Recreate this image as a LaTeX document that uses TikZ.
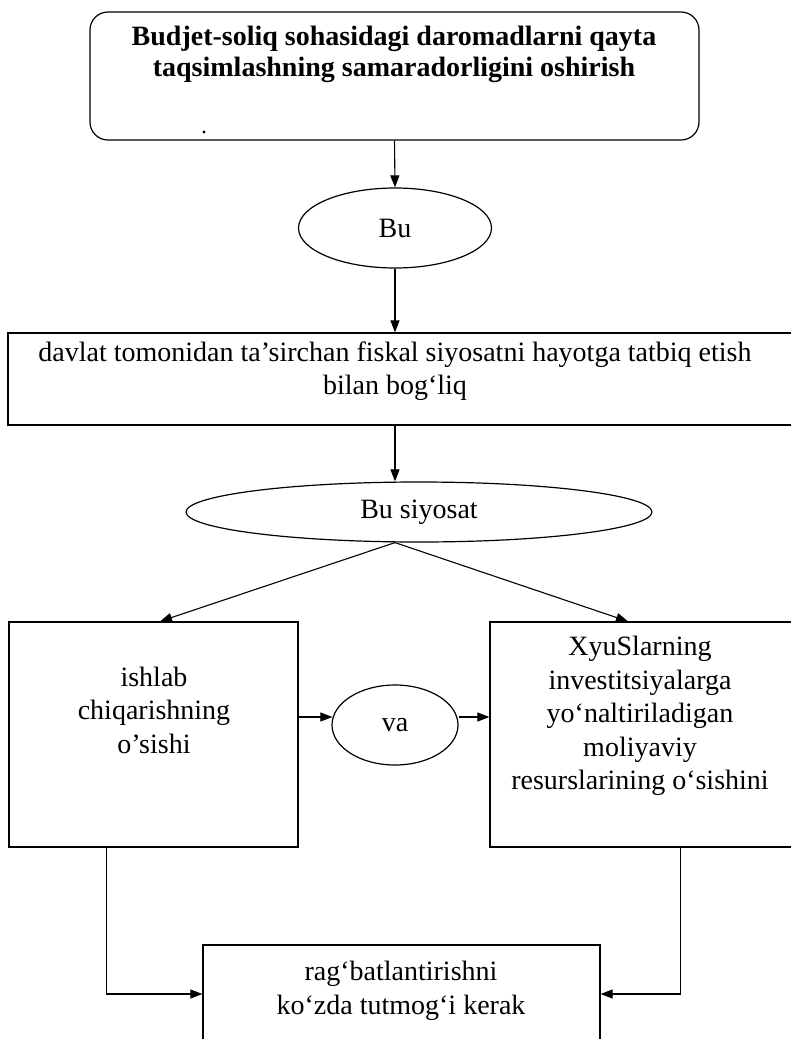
\documentclass[tikz,border=0pt]{standalone}
\usepackage{fontspec}
\setmainfont{Liberation Serif}
\usetikzlibrary{arrows.meta,shapes.geometric,calc}
\begin{document}
\begin{tikzpicture}[x=1pt,y=-1pt,
  line width=1.2pt,
  txt/.style={font=\fontsize{28}{33.5}\selectfont, align=center, inner sep=0pt},
  btxt/.style={font=\bfseries\fontsize{28}{31}\selectfont, align=center, inner sep=0pt},
  boxnode/.style={draw, rectangle, inner sep=0pt},
  ell/.style={draw, ellipse, inner sep=0pt, font=\fontsize{28}{33.5}\selectfont},
  arr/.style={-{Triangle[length=12pt,width=9pt]}, line width=1.1pt}]
\useasboundingbox (0,0) rectangle (790,1039);

% top rounded box
\node[boxnode, rounded corners=18pt, minimum width=609pt, minimum height=128pt] (top) at (394.5,76) {};
\node[btxt] (toptxt) at (394,54) {Budjet-soliq sohasidagi daromadlarni qayta\\taqsimlashning samaradorligini oshirish};
\fill (204,132) circle (1.6);

% Bu
\node[ell, minimum width=193pt, minimum height=80pt] (bu) at (395,228) {Bu};

% box 2
\node[boxnode, minimum width=785pt, minimum height=92pt] (box2) at (400.5,379) {};
\node[txt] (box2txt) at (395,371) {davlat tomonidan ta’sirchan fiskal siyosatni hayotga tatbiq etish\\bilan bog‘liq};

% Bu siyosat
\node[ell, minimum width=466pt, minimum height=60pt] (pol) at (419,512) {Bu siyosat};

% left and right boxes
\node[boxnode, minimum width=289pt, minimum height=225pt] (left) at (153.5,734.5) {};
\node[txt] (lefttxt) at (154,710) {ishlab\\chiqarishning\\o’sishi};
\node[boxnode, minimum width=303pt, minimum height=225pt] (right) at (641.5,734.5) {};
\node[txt] (righttxt) at (640,716) {XyuSlarning\\investitsiyalarga\\yo‘naltiriladigan\\moliyaviy\\resurslarining o‘sishini};

% va
\node[ell, minimum width=126pt, minimum height=80pt] (va) at (395,725) {va};

% bottom box
\node[boxnode, minimum width=397pt, minimum height=98pt] (bot) at (401.5,994) {};
\node[txt] (bottxt) at (401,991) {rag‘batlantirishni\\ko‘zda tutmog‘i kerak};

% connectors
\coordinate (split) at (pol.south -| bu.south);
\coordinate (vy) at (395,717);
\draw[arr] (top.south) -- (bu.north);
\draw[arr] (bu.south) -- (box2.north -| bu.south);
\draw[arr] (box2.south -| bu.south) -- (pol.north -| bu.south);
\draw[arr] (split) -- ([xshift=6.5pt]left.north);
\draw[arr] (split) -- ([xshift=-13.5pt]right.north);
\draw[arr] (left.east |- vy) -- ([xshift=1pt]va.west |- vy);
\draw[arr] (va.east |- vy) -- (right.west |- vy);
\draw[arr] ([xshift=98pt]left.south west) |- (bot.west);
\draw[arr] ([xshift=191pt]right.south west) |- (bot.east);
\end{tikzpicture}
\end{document}
